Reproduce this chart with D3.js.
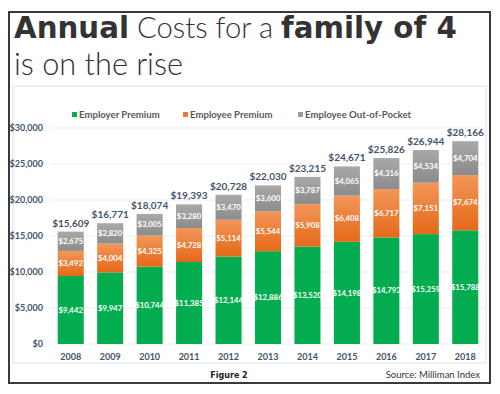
<!DOCTYPE html>
<html><head><meta charset="utf-8">
<script src="https://cdn.jsdelivr.net/npm/d3@7"></script>
<style>body{margin:0;background:#fff}svg{display:block}</style>
</head><body>
<script>
const years = ["2008","2009","2010","2011","2012","2013","2014","2015","2016","2017","2018"];
const employerPremium = [9442, 9947, 10744, 11385, 12144, 12886, 13520, 14198, 14793, 15259, 15788];
const employeePremium = [3492, 4004, 4325, 4728, 5114, 5544, 5908, 6408, 6717, 7151, 7674];
const outOfPocket = [2675, 2820, 3005, 3280, 3470, 3600, 3787, 4065, 4316, 4534, 4704];
const totals = [15609, 16771, 18074, 19393, 20728, 22030, 23215, 24671, 25826, 26944, 28166];
const seriesNames = ["Employer Premium", "Employee Premium", "Employee Out-of-Pocket"];
const yTicks = [0, 5000, 10000, 15000, 20000, 25000, 30000];

const W = 500, H = 394;
const svg = d3.select("body").append("svg").attr("width", W).attr("height", H);
const defs = svg.append("defs");
function grad(id, top, bottom){
  const g = defs.append("linearGradient").attr("id", id).attr("x1",0).attr("y1",0).attr("x2",0).attr("y2",1);
  g.append("stop").attr("offset","0%").attr("stop-color",top);
  g.append("stop").attr("offset","100%").attr("stop-color",bottom);
}
grad("gOrange", "#f39658", "#e4691a");
grad("gGray", "#a9a9a9", "#8b8b8b");
const fills = ["#03ad4f", "url(#gOrange)", "url(#gGray)"];
const legendColors = ["#03ad4f", "#ee7b33", "#9a9a9a"];

// outer frame
svg.append("rect").attr("x",9).attr("y",12).attr("width",481).attr("height",371)
  .attr("fill","none").attr("stroke","#3a3a3a").attr("stroke-width",2);
// inner chart box
svg.append("rect").attr("x",13).attr("y",86).attr("width",473).attr("height",277)
  .attr("fill","none").attr("stroke","#dde0e6").attr("stroke-width",1);

// title
const boldFont = "'DejaVu Sans', sans-serif";
const regFont = "Lato, 'Noto Sans', sans-serif";
const t1 = svg.append("text").attr("x",14).attr("y",38).attr("fill","#333").attr("font-size",29);
t1.append("tspan").attr("font-family",boldFont).attr("font-weight",900).text("Annual");
t1.append("tspan").attr("font-family",regFont).attr("font-weight",300).text(" Costs for a ");
t1.append("tspan").attr("font-family",boldFont).attr("font-weight",900).text("family of 4");
const t2 = svg.append("text").attr("x",14).attr("y",75).attr("fill","#333").attr("font-size",31)
  .attr("font-family",regFont).attr("font-weight",300).text("is on the rise");
function fit(sel, target){
  const fs = +sel.attr("font-size");
  const w = sel.node().getComputedTextLength();
  sel.attr("font-size", fs * target / w);
}
fit(t1, 443); fit(t2, 169);

// scales
const x = d3.scaleBand().domain(years).range([51, 485]).paddingInner(0.34).paddingOuter(0.17);
const y = d3.scaleLinear().domain([0, 30000]).range([344, 128]);
const chartFont = "Lato, 'Open Sans', sans-serif";
const axisColor = "#44546a";

// gridlines
svg.append("g").selectAll("line").data(yTicks).join("line")
  .attr("x1",50).attr("x2",485).attr("y1",d=>y(d)).attr("y2",d=>y(d))
  .attr("stroke","#e9edf2").attr("stroke-width",1);

// y axis
const yAxis = svg.append("g").attr("transform","translate(46,0)")
  .call(d3.axisLeft(y).tickValues(yTicks).tickSize(0).tickPadding(3).tickFormat(d=>"$"+d3.format(",")(d)));
yAxis.select(".domain").remove();
yAxis.selectAll("text").attr("font-family",chartFont).attr("font-weight",700).attr("font-size",9).attr("fill",axisColor);

// x axis
const xAxis = svg.append("g").attr("transform","translate(0,351)")
  .call(d3.axisBottom(x).tickSize(0).tickPadding(3));
xAxis.select(".domain").remove();
xAxis.selectAll("text").attr("font-family",chartFont).attr("font-weight",700).attr("font-size",9).attr("fill",axisColor);

// stacked data
const rows = years.map((yr,i)=>({year:yr, s0:employerPremium[i], s1:employeePremium[i], s2:outOfPocket[i], total:totals[i]}));
const stack = d3.stack().keys(["s0","s1","s2"])(rows);
const bw = x.bandwidth();
stack.forEach((layer, k)=>{
  const g = svg.append("g");
  g.selectAll("rect").data(layer).join("rect")
    .attr("x", d=>x(d.data.year)).attr("width", bw)
    .attr("y", d=>y(d[1])).attr("height", d=>y(d[0])-y(d[1]))
    .attr("fill", fills[k]);
  g.selectAll("text").data(layer).join("text")
    .attr("x", d=>x(d.data.year)+bw/2).attr("y", d=>(y(d[0])+y(d[1]))/2)
    .attr("dy","0.35em").attr("text-anchor","middle")
    .attr("font-family",chartFont).attr("font-weight",700).attr("font-size",7.8)
    .attr("fill","#ffffff")
    .text(d=>"$"+d3.format(",")(d[1]-d[0]));
});
// totals
svg.append("g").selectAll("text").data(rows).join("text")
  .attr("x", d=>x(d.year)+bw/2).attr("y", d=>y(d.total)-5)
  .attr("text-anchor","middle").attr("font-family",chartFont).attr("font-weight",700)
  .attr("font-size",10).attr("fill",axisColor)
  .text(d=>"$"+d3.format(",")(d.total));

// legend
const legX = [72, 183, 298];
const leg = svg.append("g");
seriesNames.forEach((n,i)=>{
  leg.append("rect").attr("x",legX[i]).attr("y",112).attr("width",5).attr("height",5).attr("fill",legendColors[i]);
  leg.append("text").attr("x",legX[i]+7).attr("y",115).attr("dy","0.35em")
    .attr("font-family",chartFont).attr("font-weight",700).attr("font-size",9.6).attr("fill","#595959").text(n);
});

// footer
svg.append("text").attr("x",229).attr("y",378).attr("text-anchor","middle")
  .attr("font-family","'DejaVu Sans', sans-serif").attr("font-weight",700).attr("font-size",8).attr("fill","#222").text("Figure 2");
svg.append("text").attr("x",480).attr("y",378).attr("text-anchor","end")
  .attr("font-family",regFont).attr("font-size",9.5).attr("fill","#333").text("Source: Milliman Index");
</script>
</body></html>
